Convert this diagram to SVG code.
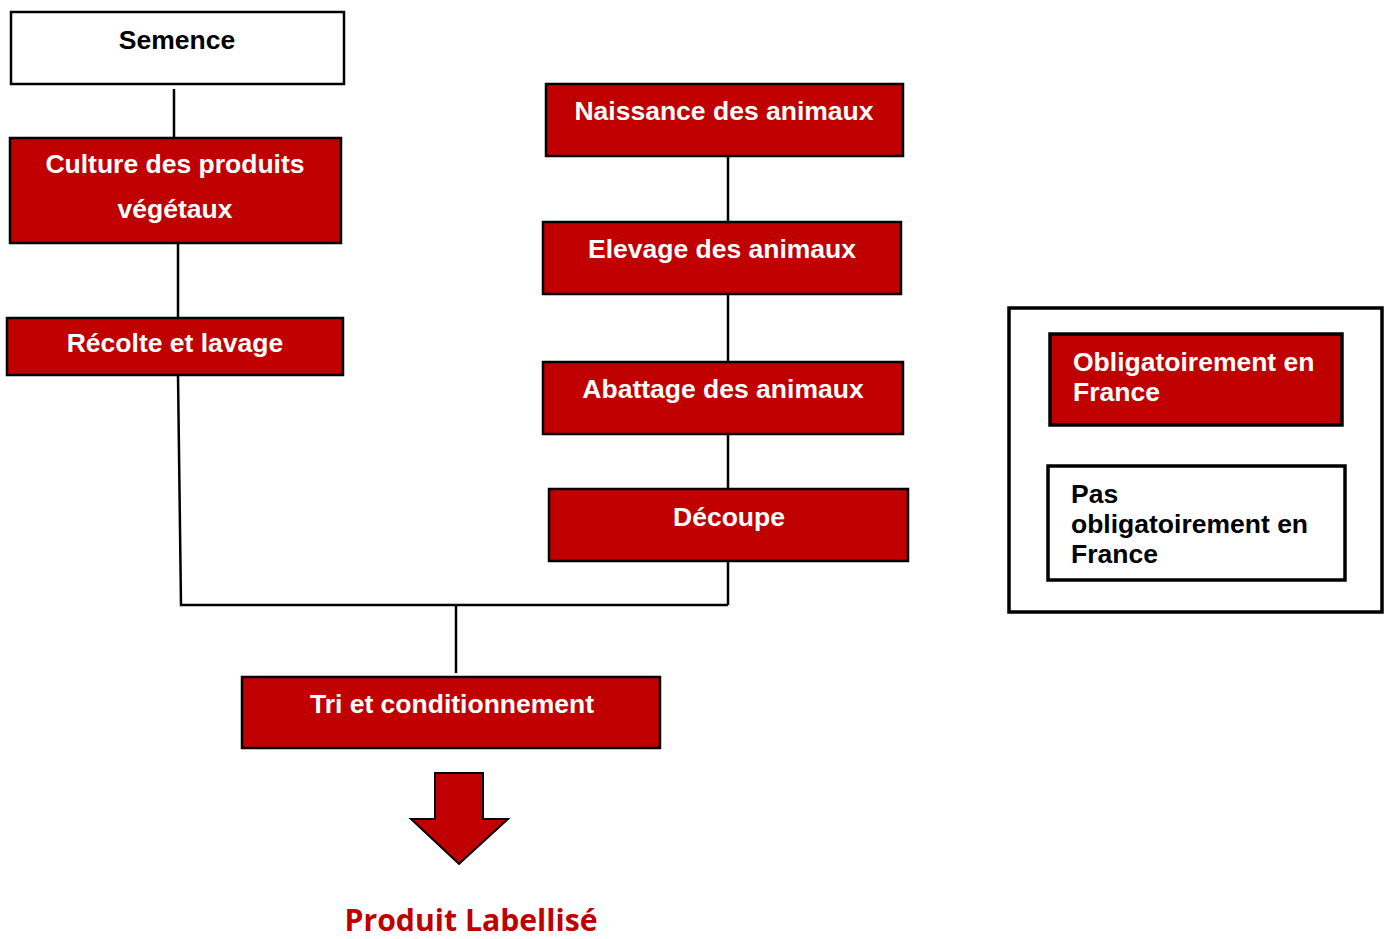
<svg xmlns="http://www.w3.org/2000/svg" width="1389" height="939" viewBox="0 0 1389 939">
<style>
.red{fill:#c00000;stroke:#000;stroke-width:2.5}
.white{fill:#fff;stroke:#000;stroke-width:2.5}
.tw{font-family:"Liberation Sans",Arial,sans-serif;font-weight:bold;font-size:26.5px;fill:#fff;text-anchor:middle}
.tb{font-family:"Liberation Sans",Arial,sans-serif;font-weight:bold;font-size:26.5px;fill:#000;text-anchor:middle}
.lw{font-family:"Liberation Sans",Arial,sans-serif;font-weight:bold;font-size:26.5px;fill:#fff}
.lb{font-family:"Liberation Sans",Arial,sans-serif;font-weight:bold;font-size:26.5px;fill:#000}
.conn{stroke:#000;stroke-width:2.5;fill:none}
</style>
<rect width="1389" height="939" fill="#fff"/>
<g id="connectors">
<line class="conn" x1="174" y1="89" x2="174" y2="141"/>
<line class="conn" x1="178" y1="243" x2="178" y2="318"/>
<polyline class="conn" points="178,375 181,605 728,605"/>
<line class="conn" x1="728" y1="156" x2="728" y2="222"/>
<line class="conn" x1="728" y1="294" x2="728" y2="362"/>
<line class="conn" x1="728" y1="434" x2="728" y2="489"/>
<line class="conn" x1="728" y1="561" x2="728" y2="605"/>
<line class="conn" x1="456" y1="605" x2="456" y2="673"/>
</g>
<g id="semence">
<rect class="white" x="11" y="12" width="333" height="72"/>
<text class="tb" x="177" y="49">Semence</text>
</g>
<g id="culture">
<rect class="red" x="10" y="138" width="331" height="105"/>
<text class="tw" x="175" y="173">Culture des produits</text>
<text class="tw" x="175" y="218">végétaux</text>
</g>
<g id="recolte">
<rect class="red" x="7" y="318" width="336" height="57"/>
<text class="tw" x="175" y="352">Récolte et lavage</text>
</g>
<g id="naissance">
<rect class="red" x="546" y="84" width="357" height="72"/>
<text class="tw" x="724" y="120">Naissance des animaux</text>
</g>
<g id="elevage">
<rect class="red" x="543" y="222" width="358" height="72"/>
<text class="tw" x="722" y="258">Elevage des animaux</text>
</g>
<g id="abattage">
<rect class="red" x="543" y="362" width="360" height="72"/>
<text class="tw" x="723" y="398">Abattage des animaux</text>
</g>
<g id="decoupe">
<rect class="red" x="549" y="489" width="359" height="72"/>
<text class="tw" x="729" y="526">Découpe</text>
</g>
<g id="tri">
<rect class="red" x="242" y="677" width="418" height="71"/>
<text class="tw" x="452" y="713">Tri et conditionnement</text>
</g>
<g id="arrow">
<polygon points="435,773 483,773 483,819 508,819 459,864 411,819 435,819" fill="#c00000" stroke="#000" stroke-width="2"/>
</g>
<g id="produit">
<text x="471" y="931" font-family="'Open Sans','Noto Sans',sans-serif" font-weight="bold" font-size="30" fill="#c00000" text-anchor="middle" textLength="253" lengthAdjust="spacingAndGlyphs">Produit Labellisé</text>
</g>
<g id="legend">
<rect x="1009" y="308" width="373" height="304" fill="#fff" stroke="#000" stroke-width="3.5"/>
<rect x="1050" y="334" width="292" height="91" fill="#c00000" stroke="#000" stroke-width="3.5"/>
<text class="lw" x="1073" y="371">Obligatoirement en</text>
<text class="lw" x="1073" y="401">France</text>
<rect x="1048" y="466" width="297" height="114" fill="#fff" stroke="#000" stroke-width="3.5"/>
<text class="lb" x="1071" y="503">Pas</text>
<text class="lb" x="1071" y="533">obligatoirement en</text>
<text class="lb" x="1071" y="563">France</text>
</g>
</svg>
